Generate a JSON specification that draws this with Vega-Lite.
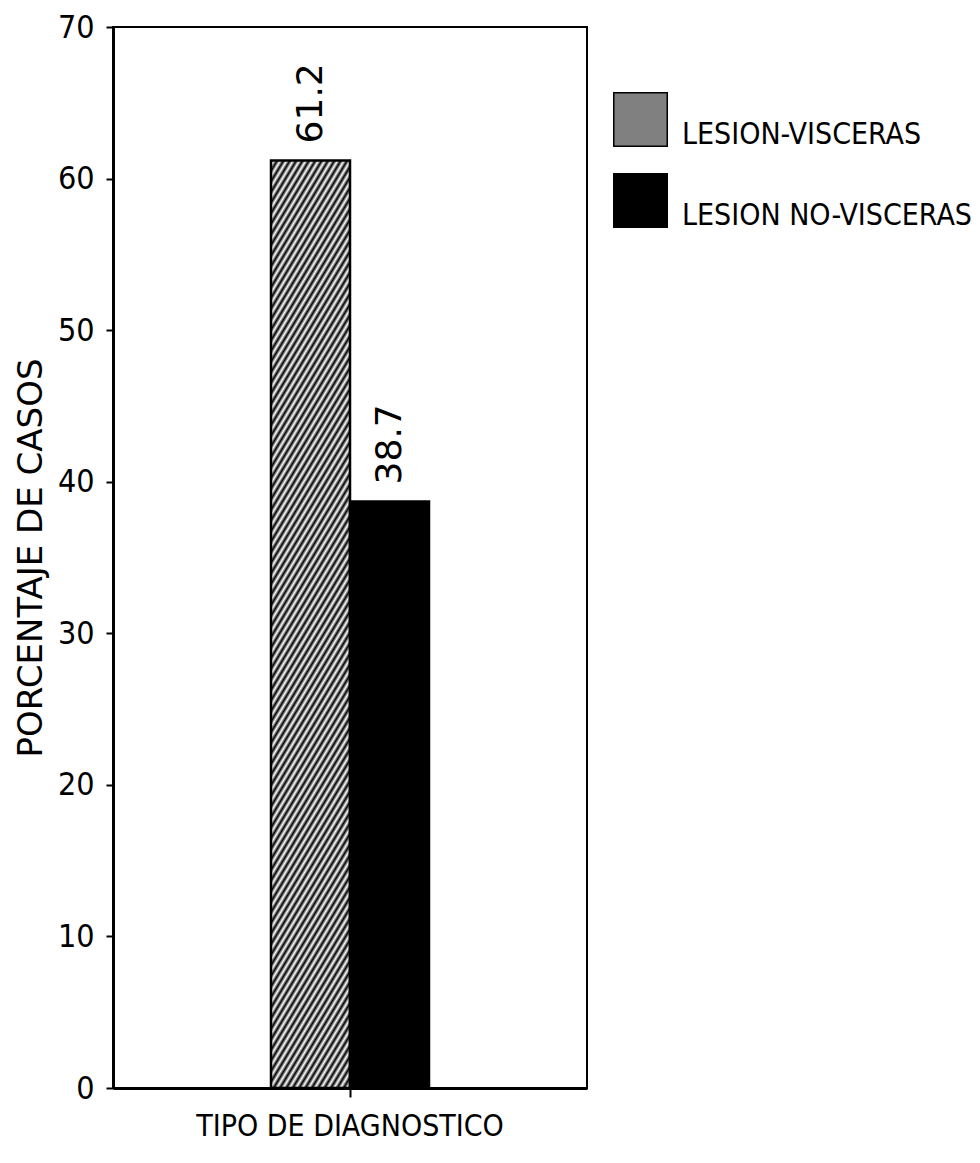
{
  "$schema": "https://vega.github.io/schema/vega-lite/v6.json",
  "width": 474,
  "height": 1061,
  "autosize": "none",
  "padding": {"left": 113, "top": 27, "right": 393, "bottom": 75},
  "background": "white",
  "data": {
    "values": [
      {"cat": "TIPO DE DIAGNOSTICO", "grupo": "LESION-VISCERAS", "valor": 61.2},
      {"cat": "TIPO DE DIAGNOSTICO", "grupo": "LESION NO-VISCERAS", "valor": 38.7}
    ]
  },
  "config": {
    "view": {"stroke": "#000", "strokeWidth": 2},
    "axis": {"grid": false}
  },
  "encoding": {
    "x": {
      "field": "cat", "type": "nominal",
      "scale": {"paddingInner": 0, "paddingOuter": 1.01},
      "axis": {
        "title": null, "labelAngle": 0, "domainColor": "#000", "domainWidth": 3,
        "tickColor": "#000", "tickWidth": 2, "tickSize": 9,
        "labelFont": "DejaVu Sans Condensed, sans-serif",
        "labelFontSize": 30, "labelColor": "#000", "labelPadding": 14, "labelLimit": 0
      }
    },
    "xOffset": {
      "field": "grupo", "type": "nominal",
      "sort": ["LESION-VISCERAS", "LESION NO-VISCERAS"],
      "scale": {"paddingInner": 0, "paddingOuter": 0}
    },
    "y": {
      "field": "valor", "type": "quantitative",
      "scale": {"domain": [0, 70], "nice": false},
      "axis": {
        "values": [0, 10, 20, 30, 40, 50, 60, 70],
        "title": "PORCENTAJE DE CASOS",
        "titleFont": "DejaVu Sans", "titleFontSize": 34, "titleFontWeight": "normal",
        "titleColor": "#000", "titlePadding": 9,
        "domainColor": "#000", "domainWidth": 3,
        "tickColor": "#000", "tickWidth": 2, "tickSize": 7,
        "labelFont": "DejaVu Sans Condensed, sans-serif",
        "labelFontSize": 32, "labelColor": "#000", "labelPadding": 12
      }
    }
  },
  "layer": [
    {
      "mark": {"type": "bar", "stroke": "#000", "strokeWidth": 2.5},
      "encoding": {
        "fill": {
          "condition": {
            "test": "datum.grupo === 'LESION-VISCERAS'",
            "value": {"gradient": "linear", "x1": 0, "y1": 0, "x2": 0.1587, "y2": 1.1193, "stops": [
                {"offset":0,"color":"#000"},{"offset":0.005,"color":"#fff"},{"offset":0.01,"color":"#000"},{"offset":0.015,"color":"#fff"},{"offset":0.02,"color":"#000"},{"offset":0.025,"color":"#fff"},{"offset":0.03,"color":"#000"},{"offset":0.035,"color":"#fff"},{"offset":0.04,"color":"#000"},{"offset":0.045,"color":"#fff"},
                {"offset":0.05,"color":"#000"},{"offset":0.055,"color":"#fff"},{"offset":0.06,"color":"#000"},{"offset":0.065,"color":"#fff"},{"offset":0.07,"color":"#000"},{"offset":0.075,"color":"#fff"},{"offset":0.08,"color":"#000"},{"offset":0.085,"color":"#fff"},{"offset":0.09,"color":"#000"},{"offset":0.095,"color":"#fff"},
                {"offset":0.1,"color":"#000"},{"offset":0.105,"color":"#fff"},{"offset":0.11,"color":"#000"},{"offset":0.115,"color":"#fff"},{"offset":0.12,"color":"#000"},{"offset":0.125,"color":"#fff"},{"offset":0.13,"color":"#000"},{"offset":0.135,"color":"#fff"},{"offset":0.14,"color":"#000"},{"offset":0.145,"color":"#fff"},
                {"offset":0.15,"color":"#000"},{"offset":0.155,"color":"#fff"},{"offset":0.16,"color":"#000"},{"offset":0.165,"color":"#fff"},{"offset":0.17,"color":"#000"},{"offset":0.175,"color":"#fff"},{"offset":0.18,"color":"#000"},{"offset":0.185,"color":"#fff"},{"offset":0.19,"color":"#000"},{"offset":0.195,"color":"#fff"},
                {"offset":0.2,"color":"#000"},{"offset":0.205,"color":"#fff"},{"offset":0.21,"color":"#000"},{"offset":0.215,"color":"#fff"},{"offset":0.22,"color":"#000"},{"offset":0.225,"color":"#fff"},{"offset":0.23,"color":"#000"},{"offset":0.235,"color":"#fff"},{"offset":0.24,"color":"#000"},{"offset":0.245,"color":"#fff"},
                {"offset":0.25,"color":"#000"},{"offset":0.255,"color":"#fff"},{"offset":0.26,"color":"#000"},{"offset":0.265,"color":"#fff"},{"offset":0.27,"color":"#000"},{"offset":0.275,"color":"#fff"},{"offset":0.28,"color":"#000"},{"offset":0.285,"color":"#fff"},{"offset":0.29,"color":"#000"},{"offset":0.295,"color":"#fff"},
                {"offset":0.3,"color":"#000"},{"offset":0.305,"color":"#fff"},{"offset":0.31,"color":"#000"},{"offset":0.315,"color":"#fff"},{"offset":0.32,"color":"#000"},{"offset":0.325,"color":"#fff"},{"offset":0.33,"color":"#000"},{"offset":0.335,"color":"#fff"},{"offset":0.34,"color":"#000"},{"offset":0.345,"color":"#fff"},
                {"offset":0.35,"color":"#000"},{"offset":0.355,"color":"#fff"},{"offset":0.36,"color":"#000"},{"offset":0.365,"color":"#fff"},{"offset":0.37,"color":"#000"},{"offset":0.375,"color":"#fff"},{"offset":0.38,"color":"#000"},{"offset":0.385,"color":"#fff"},{"offset":0.39,"color":"#000"},{"offset":0.395,"color":"#fff"},
                {"offset":0.4,"color":"#000"},{"offset":0.405,"color":"#fff"},{"offset":0.41,"color":"#000"},{"offset":0.415,"color":"#fff"},{"offset":0.42,"color":"#000"},{"offset":0.425,"color":"#fff"},{"offset":0.43,"color":"#000"},{"offset":0.435,"color":"#fff"},{"offset":0.44,"color":"#000"},{"offset":0.445,"color":"#fff"},
                {"offset":0.45,"color":"#000"},{"offset":0.455,"color":"#fff"},{"offset":0.46,"color":"#000"},{"offset":0.465,"color":"#fff"},{"offset":0.47,"color":"#000"},{"offset":0.475,"color":"#fff"},{"offset":0.48,"color":"#000"},{"offset":0.485,"color":"#fff"},{"offset":0.49,"color":"#000"},{"offset":0.495,"color":"#fff"},
                {"offset":0.5,"color":"#000"},{"offset":0.505,"color":"#fff"},{"offset":0.51,"color":"#000"},{"offset":0.515,"color":"#fff"},{"offset":0.52,"color":"#000"},{"offset":0.525,"color":"#fff"},{"offset":0.53,"color":"#000"},{"offset":0.535,"color":"#fff"},{"offset":0.54,"color":"#000"},{"offset":0.545,"color":"#fff"},
                {"offset":0.55,"color":"#000"},{"offset":0.555,"color":"#fff"},{"offset":0.56,"color":"#000"},{"offset":0.565,"color":"#fff"},{"offset":0.57,"color":"#000"},{"offset":0.575,"color":"#fff"},{"offset":0.58,"color":"#000"},{"offset":0.585,"color":"#fff"},{"offset":0.59,"color":"#000"},{"offset":0.595,"color":"#fff"},
                {"offset":0.6,"color":"#000"},{"offset":0.605,"color":"#fff"},{"offset":0.61,"color":"#000"},{"offset":0.615,"color":"#fff"},{"offset":0.62,"color":"#000"},{"offset":0.625,"color":"#fff"},{"offset":0.63,"color":"#000"},{"offset":0.635,"color":"#fff"},{"offset":0.64,"color":"#000"},{"offset":0.645,"color":"#fff"},
                {"offset":0.65,"color":"#000"},{"offset":0.655,"color":"#fff"},{"offset":0.66,"color":"#000"},{"offset":0.665,"color":"#fff"},{"offset":0.67,"color":"#000"},{"offset":0.675,"color":"#fff"},{"offset":0.68,"color":"#000"},{"offset":0.685,"color":"#fff"},{"offset":0.69,"color":"#000"},{"offset":0.695,"color":"#fff"},
                {"offset":0.7,"color":"#000"},{"offset":0.705,"color":"#fff"},{"offset":0.71,"color":"#000"},{"offset":0.715,"color":"#fff"},{"offset":0.72,"color":"#000"},{"offset":0.725,"color":"#fff"},{"offset":0.73,"color":"#000"},{"offset":0.735,"color":"#fff"},{"offset":0.74,"color":"#000"},{"offset":0.745,"color":"#fff"},
                {"offset":0.75,"color":"#000"},{"offset":0.755,"color":"#fff"},{"offset":0.76,"color":"#000"},{"offset":0.765,"color":"#fff"},{"offset":0.77,"color":"#000"},{"offset":0.775,"color":"#fff"},{"offset":0.78,"color":"#000"},{"offset":0.785,"color":"#fff"},{"offset":0.79,"color":"#000"},{"offset":0.795,"color":"#fff"},
                {"offset":0.8,"color":"#000"},{"offset":0.805,"color":"#fff"},{"offset":0.81,"color":"#000"},{"offset":0.815,"color":"#fff"},{"offset":0.82,"color":"#000"},{"offset":0.825,"color":"#fff"},{"offset":0.83,"color":"#000"},{"offset":0.835,"color":"#fff"},{"offset":0.84,"color":"#000"},{"offset":0.845,"color":"#fff"},
                {"offset":0.85,"color":"#000"},{"offset":0.855,"color":"#fff"},{"offset":0.86,"color":"#000"},{"offset":0.865,"color":"#fff"},{"offset":0.87,"color":"#000"},{"offset":0.875,"color":"#fff"},{"offset":0.88,"color":"#000"},{"offset":0.885,"color":"#fff"},{"offset":0.89,"color":"#000"},{"offset":0.895,"color":"#fff"},
                {"offset":0.9,"color":"#000"},{"offset":0.905,"color":"#fff"},{"offset":0.91,"color":"#000"},{"offset":0.915,"color":"#fff"},{"offset":0.92,"color":"#000"},{"offset":0.925,"color":"#fff"},{"offset":0.93,"color":"#000"},{"offset":0.935,"color":"#fff"},{"offset":0.94,"color":"#000"},{"offset":0.945,"color":"#fff"},
                {"offset":0.95,"color":"#000"},{"offset":0.955,"color":"#fff"},{"offset":0.96,"color":"#000"},{"offset":0.965,"color":"#fff"},{"offset":0.97,"color":"#000"},{"offset":0.975,"color":"#fff"},{"offset":0.98,"color":"#000"},{"offset":0.985,"color":"#fff"},{"offset":0.99,"color":"#000"},{"offset":0.995,"color":"#fff"},
                {"offset":1,"color":"#000"}
            ]}
          },
          "value": "#000"
        }
      }
    },
    {
      "mark": {"type": "bar", "opacity": 0},
      "encoding": {
        "fill": {
          "field": "grupo", "type": "nominal",
          "sort": ["LESION-VISCERAS", "LESION NO-VISCERAS"],
          "scale": {
            "domain": ["LESION-VISCERAS", "LESION NO-VISCERAS"],
            "range": ["#808080", "#000"]
          },
          "legend": {
            "orient": "none", "legendX": 500, "legendY": 65,
            "title": null, "padding": 0,
            "symbolType": "square", "symbolSize": 2862,
            "symbolStrokeColor": "#000", "symbolStrokeWidth": 1.5,
            "symbolOpacity": 1,
            "labelFont": "DejaVu Sans Condensed, sans-serif",
            "labelFontSize": 30, "labelColor": "#000", "labelOffset": 14,
            "labelBaseline": "top",
            "labelLimit": 400, "rowPadding": 20
          }
        }
      }
    },
    {
      "mark": {
        "type": "text", "angle": 270, "align": "left", "baseline": "middle",
        "dx": 17, "font": "DejaVu Sans", "fontSize": 36, "color": "#000"
      },
      "encoding": {
        "text": {"field": "valor", "type": "quantitative", "format": ".1f"}
      }
    }
  ]
}
